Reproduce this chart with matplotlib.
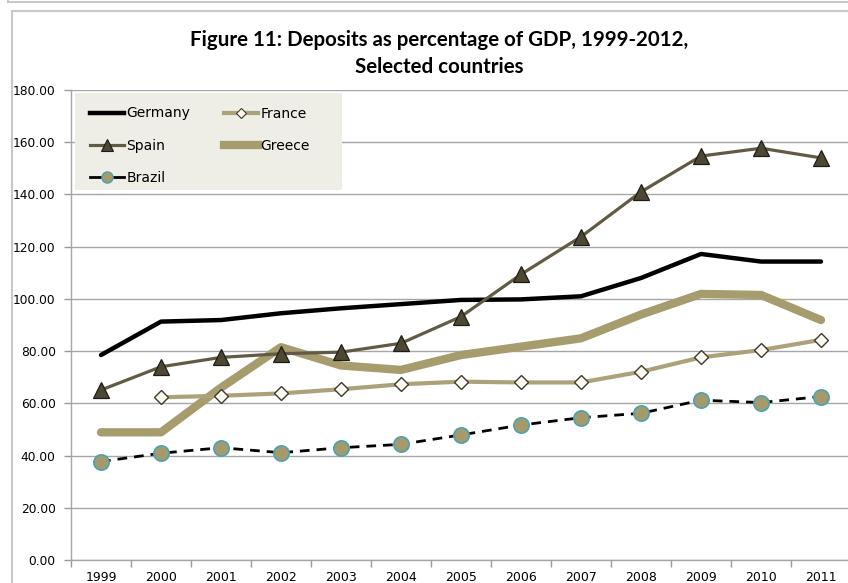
import matplotlib
matplotlib.use("Agg")
import matplotlib.pyplot as plt
from matplotlib.lines import Line2D
from matplotlib.patches import Rectangle

years = ["1999", "2000", "2001", "2002", "2003", "2004", "2005",
         "2006", "2007", "2008", "2009", "2010", "2011"]

germany = [78.5, 91.3, 91.9, 94.5, 96.4, 98.0, 99.6, 99.8, 101.0, 108.0, 117.2, 114.3, 114.3]
france = [None, 62.3, 62.9, 63.8, 65.4, 67.3, 68.3, 68.0, 68.0, 72.1, 77.6, 80.4, 84.3]
spain = [65.1, 74.0, 77.6, 79.0, 79.6, 83.0, 93.2, 109.4, 123.8, 141.0, 154.7, 157.7, 154.0]
greece = [48.9, 48.9, 66.0, 81.5, 74.5, 72.8, 78.5, 81.7, 84.9, 94.0, 101.9, 101.5, 91.9]
brazil = [37.7, 40.9, 43.0, 41.1, 43.0, 44.3, 47.9, 51.7, 54.5, 56.2, 61.2, 60.3, 62.6]

yticks = [0, 20, 40, 60, 80, 100, 120, 140, 160, 180]
title = "Figure 11: Deposits as percentage of GDP, 1999-2012,\nSelected countries"

W, H = 848, 583
fig = plt.figure(figsize=(W / 100, H / 100), dpi=100)
ax = fig.add_axes([71 / W, (H - 560) / H, 780 / W, 470 / H])

x = list(range(len(years)))

c_black = "#000000"
c_tan = "#A69C6E"
c_tan_light = "#ACA27A"
c_olive = "#615B45"
c_olive_dark = "#4C4833"
c_teal = "#4AA3B5"

ax.plot(x, greece, color=c_tan, lw=6.0, solid_capstyle="round",
        solid_joinstyle="round", zorder=3)
ax.plot(x, germany, color=c_black, lw=3.2, solid_capstyle="round",
        solid_joinstyle="round", zorder=4)
fx = [i for i, v in zip(x, france) if v is not None]
fv = [v for v in france if v is not None]
ax.plot(fx, fv, color=c_tan_light, lw=3.0, marker="D", ms=7,
        mfc="#FAF9F2", mec="#3E3A2A", mew=1.0, zorder=5)
ax.plot(x, spain, color=c_olive, lw=2.3, marker="^", ms=11,
        mfc=c_olive_dark, mec="#1E1C14", mew=0.9, zorder=6)
ax.plot(x, brazil, color=c_black, lw=2.0, ls=(0, (3.5, 2.5)), marker="o",
        ms=11, mfc="#A49A6C", mec=c_teal, mew=1.2, zorder=7)

ax.set_xlim(-0.5, len(years) - 0.5)
ax.set_ylim(0, 180)
ax.set_yticks(yticks)
ax.set_yticklabels([f"{v:.2f}" for v in yticks])
ax.set_xticks(x)
ax.set_xticklabels(years)
ax.set_xticks([i - 0.5 for i in range(len(years) + 1)], minor=True)

ax.tick_params(axis="x", which="major", length=0, pad=8, labelsize=9,
               labelcolor="#000000")
ax.tick_params(axis="x", which="minor", length=5, width=1, color="#999999",
               direction="out")
ax.tick_params(axis="y", length=5, width=1, color="#999999", pad=6,
               labelsize=8.8)

ax.grid(axis="y", color="#A6A6A6", lw=1.0)
ax.set_axisbelow(True)
for s in ("top", "right"):
    ax.spines[s].set_visible(False)
for s in ("left", "bottom"):
    ax.spines[s].set_color("#A6A6A6")
    ax.spines[s].set_linewidth(1.0)

# legend panel (drawn inside the axes so the legend sits on top of it)
panel = Rectangle((75 / W, 1 - 190 / H), (342 - 75) / W, 97 / H,
                  transform=fig.transFigure, facecolor="#EFEEE6",
                  edgecolor="none", zorder=9, clip_on=False)
ax.add_patch(panel)

handles = [
    Line2D([], [], color=c_black, lw=3.2),
    Line2D([], [], color=c_olive, lw=2.3, marker="^", ms=8,
           mfc=c_olive_dark, mec="#1E1C14", mew=0.8),
    Line2D([], [], color=c_black, lw=2.0, marker="o", ms=8,
           mfc="#A49A6C", mec=c_teal, mew=1.0),
    Line2D([], [], color=c_tan_light, lw=3.0, marker="D", ms=5.5,
           mfc="#FAF9F2", mec="#3E3A2A", mew=0.8),
    Line2D([], [], color=c_tan, lw=6.0),
]
labels = ["Germany", "Spain", "Brazil", "France", "Greece"]
leg = ax.legend(handles, labels, ncol=2, loc="upper left",
                bbox_to_anchor=(77 / W, 1 - 94 / H),
                bbox_transform=fig.transFigure, borderaxespad=0,
                frameon=False, fontsize=10,
                handlelength=2.5, handletextpad=0.15, columnspacing=2.4,
                labelspacing=1.3, borderpad=0.9)
leg.set_zorder(10)

fig.text(439 / W, 1 - 53.5 / H, title, ha="center", va="center",
         fontsize=14.8, fontweight="bold", family="Lato", linespacing=1.38)

# outer frame lines
border = "#C8C8C8"
fig.add_artist(Line2D([8 / W, 1], [1 - 2 / H, 1 - 2 / H], color=border, lw=1.5,
                      transform=fig.transFigure))
fig.add_artist(Line2D([8 / W, 8 / W], [1, 1 - 2 / H], color=border, lw=1.5,
                      transform=fig.transFigure))
fig.add_artist(Line2D([12 / W, 1], [1 - 11 / H, 1 - 11 / H], color=border, lw=1.5,
                      transform=fig.transFigure))
fig.add_artist(Line2D([12 / W, 12 / W], [0, 1 - 11 / H], color=border, lw=1.5,
                      transform=fig.transFigure))

fig.savefig("out.png", dpi=100)
